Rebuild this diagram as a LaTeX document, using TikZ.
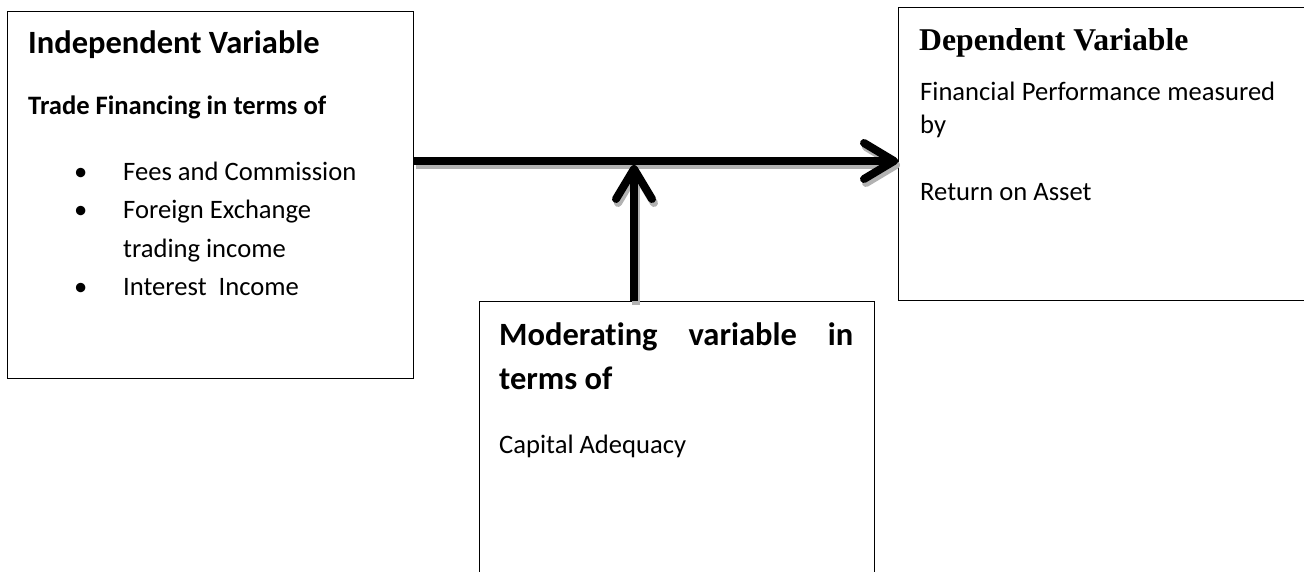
\documentclass[tikz,border=0pt]{standalone}
\usepackage{fontspec}
\setmainfont{Carlito}[Ligatures=NoCommon]
\newfontfamily\timesf{Liberation Serif}
\usetikzlibrary{arrows.meta}
\begin{document}
\begin{tikzpicture}[x=1pt,y=-1pt,
  box/.style={draw, line width=1.2pt, anchor=north west, inner sep=0pt},
  txt/.style={anchor=base west, inner sep=0pt, font=\fontsize{26.6}{32}\selectfont},
  txtb/.style={anchor=base west, inner sep=0pt, font=\fontsize{26.6}{32}\selectfont\bfseries},
  hd/.style={anchor=base west, inner sep=0pt, font=\fontsize{32.5}{38}\selectfont\bfseries},
  hdt/.style={anchor=base west, inner sep=0pt, font=\fontsize{31.7}{38}\selectfont\timesf\bfseries},
  arr/.style={line width=8pt, -{Straight Barb[length=30pt,width=36pt,round]}},
  arrshadow/.style={arr, draw=black!30, transform canvas={shift={(2pt,-4pt)}}}
]
\useasboundingbox (0,0) rectangle (1304,571);

% boxes
\node[box, minimum width=406pt, minimum height=367pt] (indep) at (7,11) {};
\node[box, minimum width=420pt, minimum height=293pt] (dep) at (898,7) {};
\node[box, minimum width=395pt, minimum height=290pt] (mod) at (479,301) {};

% independent variable texts
\node[hd] (t1) at (28,53) {Independent Variable};
\node[txtb] (t2) at (28,114) {Trade Financing in terms of};
\node[txt] (b1) at (74,180) {•};
\node[txt] (i1) at (123,180) {Fees and Commission};
\node[txt] (b2) at (74,218) {•};
\node[txt] (i2) at (123,218) {Foreign Exchange};
\node[txt] (i2b) at (123,257) {trading income};
\node[txt] (b3) at (74,295) {•};
\node[txt] (i3) at (123,295) {Interest\ \ Income};

% dependent variable texts
\node[hdt] (d1) at (919,50) {Dependent Variable};
\node[txt] (d2) at (920,100) {\makebox[355pt][s]{Financial Performance measured}};
\node[txt] (d3) at (920,133) {by};
\node[txt] (d4) at (920,200) {Return on Asset};

% moderating variable texts
\node[hd] (m1) at (499,345) {\makebox[354pt][s]{Moderating variable in}};
\node[hd] (m2) at (499,389) {terms of};
\node[txt] (m3) at (499,453) {Capital Adequacy};

% connectors
\coordinate (row) at (0,161);
\coordinate (mx) at (634,0);
\draw[arrshadow] (indep.east |- row) -- (dep.west |- row);
\draw[arrshadow] (mx |- mod.north) -- ([yshift=-4pt]mx |- row);
\draw[arr] (indep.east |- row) -- (dep.west |- row);
\draw[arr] (mx |- mod.north) -- ([yshift=-4pt]mx |- row);
\end{tikzpicture}
\end{document}
